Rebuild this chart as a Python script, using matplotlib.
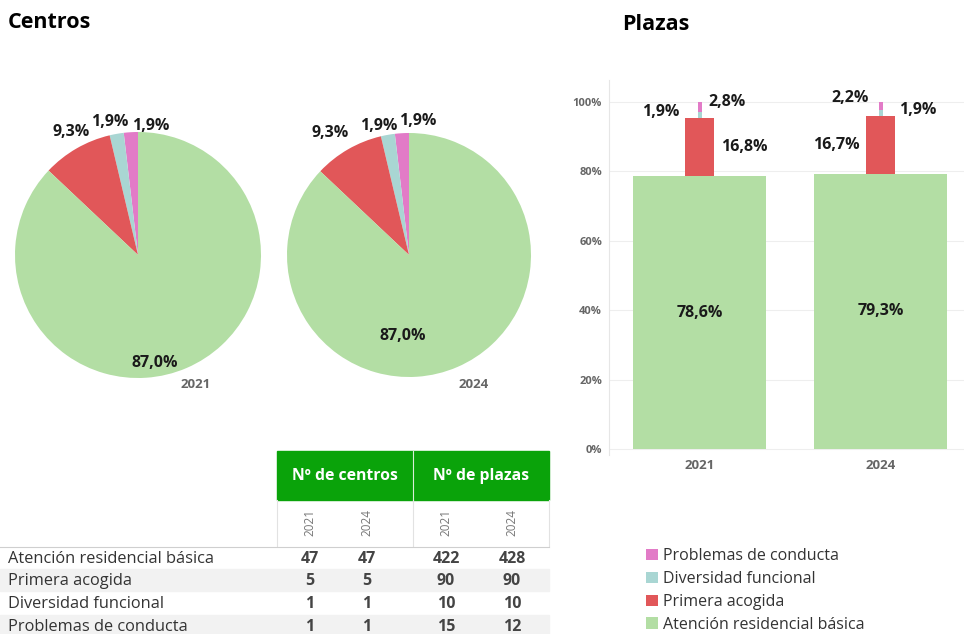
import matplotlib
matplotlib.use("Agg")
import matplotlib.pyplot as plt
from matplotlib.patches import Rectangle, Patch
from matplotlib.ticker import PercentFormatter

plt.rcParams["font.family"] = ["Open Sans", "DejaVu Sans"]

# categories, bottom to top of the stack
categories = ["Atención residencial básica", "Primera acogida", "Diversidad funcional", "Problemas de conducta"]
years = ["2021", "2024"]
centros_2021 = [47, 5, 1, 1]
centros_2024 = [47, 5, 1, 1]
plazas_2021 = [422, 90, 10, 15]
plazas_2024 = [428, 90, 10, 12]

colors = ["#b3dea4", "#e15759", "#a9d6d3", "#e27bc7"]
GREEN_HEAD = "#0aa30a"
W, H = 964, 634


def px_box(x0, y0, x1, y1):
    # pixel box (top-left origin) -> figure fraction rect
    return [x0 / W, 1 - y1 / H, (x1 - x0) / W, (y1 - y0) / H]


def pct(v):
    return f"{v * 100:.1f}%".replace(".", ",")


fig = plt.figure(figsize=(W / 100, H / 100), dpi=100)

# background axis in pixel units for titles and table
bg = fig.add_axes([0, 0, 1, 1])
bg.set_xlim(0, W)
bg.set_ylim(H, 0)
bg.axis("off")

bg.text(8, 22, "Centros", fontsize=15.5, fontweight="bold", va="center", ha="left")
bg.text(622, 24, "Plazas", fontsize=15.5, fontweight="bold", va="center", ha="left")

# ---- pies ----
pie_specs = [
    (centros_2021, (15, 132, 261, 378),
     [(0.14, -0.88), (-0.54, 1.0), (-0.23, 1.08), (0.10, 1.05)], (0.47, -1.05)),
    (centros_2024, (287, 133, 531, 377),
     [(-0.05, -0.66), (-0.65, 1.0), (-0.25, 1.06), (0.07, 1.10)], (0.53, -1.06)),
]
for (vals, box, label_pos, year_pos), year in zip(pie_specs, years):
    ax = fig.add_axes(px_box(*box))
    order = vals[::-1]
    ax.pie(order, colors=colors[::-1], startangle=90, counterclock=True,
           wedgeprops={"linewidth": 0})
    ax.set_xlim(-1, 1)
    ax.set_ylim(-1, 1)
    total = sum(vals)
    for v, (lx, ly) in zip(vals, label_pos):
        ax.text(lx, ly, pct(v / total), ha="center", va="center", fontsize=11.5,
                fontweight="bold", color="#1a1a1a", clip_on=False)
    ax.text(*year_pos, year, ha="center", va="center", fontsize=9.5,
            fontweight="bold", color="#666666", clip_on=False)

# ---- stacked bars (plazas) ----
axb = fig.add_axes(px_box(609, 80, 964, 455))
widths = [0.735, 0.16, 0.022, 0.022]
shares = []
for vals in (plazas_2021, plazas_2024):
    t = sum(vals)
    shares.append([v / t for v in vals])
bottoms = [0.0, 0.0]
for i, cat in enumerate(categories):
    vals = [s[i] for s in shares]
    axb.bar(range(len(years)), vals, width=widths[i], bottom=bottoms,
            color=colors[i], linewidth=0, label=cat, zorder=3)
    bottoms = [b + v for b, v in zip(bottoms, vals)]

lab = dict(fontsize=11.5, fontweight="bold", color="#1a1a1a", textcoords="offset points")
# main segment labels
for x, s in enumerate(shares):
    axb.annotate(pct(s[0]), (x, s[0] / 2), xytext=(0, 0), ha="center", va="center", **lab)
# 2021 small segments
s = shares[0]
axb.annotate(pct(s[1]), (0.08, s[0] + s[1] / 2), xytext=(5, 0), ha="left", va="center", **lab)
axb.annotate(pct(s[2]), (-0.011, s[0] + s[1] + s[2]), xytext=(-13, 0), ha="right", va="center", **lab)
axb.annotate(pct(s[3]), (0.011, 1.0), xytext=(5, 0), ha="left", va="center", **lab)
# 2024 small segments
s = shares[1]
axb.annotate(pct(s[1]), (1 - 0.08, s[0] + s[1] / 2), xytext=(-5, 0), ha="right", va="center", **lab)
axb.annotate(pct(s[3]), (1 - 0.011, 1.0), xytext=(-7, 3), ha="right", va="center", **lab)
axb.annotate(pct(s[2]), (1 + 0.011, s[0] + s[1] + s[2]), xytext=(12, 0), ha="left", va="center", **lab)

axb.set_xlim(-0.5, 1.46)
axb.set_ylim(-0.017, 1.063)
axb.set_yticks([0, 0.2, 0.4, 0.6, 0.8, 1.0])
axb.yaxis.set_major_formatter(PercentFormatter(1.0, decimals=0))
axb.set_xticks(range(len(years)), labels=years)
axb.tick_params(axis="y", length=0, labelsize=8, labelcolor="#666666", pad=5)
axb.tick_params(axis="x", length=0, labelsize=9.5, labelcolor="#666666", pad=3)
for t in axb.get_xticklabels() + axb.get_yticklabels():
    t.set_fontweight("bold")
axb.grid(axis="y", color="#eeeeee", linewidth=0.8, zorder=0)
for side in ["top", "right", "bottom"]:
    axb.spines[side].set_visible(False)
axb.spines["left"].set_color("#e6e6e6")
axb.spines["left"].set_linewidth(0.8)

# legend
handles = [Patch(facecolor=c, edgecolor="none") for c in colors][::-1]
fig.legend(handles, categories[::-1], loc="upper left",
           bbox_to_anchor=(640 / W, 1 - 542 / H), frameon=False,
           fontsize=11.5, labelcolor="#333333", handlelength=0.7, handleheight=0.7,
           handletextpad=0.35, labelspacing=0.42, borderaxespad=0)

# ---- table ----
col_x = [310, 367, 446, 512]
row_y = [558, 580, 603, 626]
row_h = 22.7
bg.add_patch(Rectangle((277, 451), 272, 49, color=GREEN_HEAD, zorder=1))
bg.plot([413, 413], [451, 500], color="#d8eed8", lw=0.8, zorder=2)
bg.text(345, 476, "Nº de centros", ha="center", va="center", color="white",
        fontsize=11.3, fontweight="bold", zorder=3)
bg.text(481, 476, "Nº de plazas", ha="center", va="center", color="white",
        fontsize=11.3, fontweight="bold", zorder=3)
for xline in (277, 413, 549):
    bg.plot([xline, xline], [500, 546], color="#e2e2e2", lw=0.8)
for i, x in enumerate(col_x):
    bg.text(x, 522, years[i % 2], rotation=90, ha="center", va="center",
            fontsize=8.5, color="#777777")
bg.plot([0, 549], [546.5, 546.5], color="#cfcfcf", lw=0.8)

table_cols = [centros_2021, centros_2024, plazas_2021, plazas_2024]
for r, cat in enumerate(categories):
    y = row_y[r]
    if r % 2 == 1:
        bg.add_patch(Rectangle((0, y - row_h / 2), 549, row_h, color="#f2f2f2", zorder=0))
    bg.text(8, y + 1, cat, ha="left", va="center", fontsize=11.8, color="#333333")
    for x, col in zip(col_x, table_cols):
        bg.text(x, y + 1, str(col[r]), ha="center", va="center", fontsize=11.5,
                fontweight="bold", color="#444444")

fig.savefig("out.png", dpi=100)
